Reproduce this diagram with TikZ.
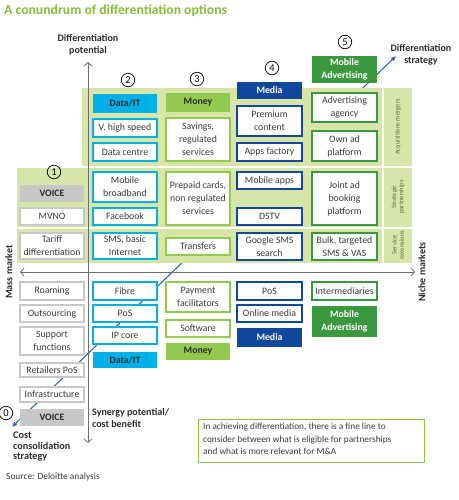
\documentclass[tikz,border=0pt]{standalone}
\usepackage{fontspec}
\setmainfont{Carlito}
\usetikzlibrary{arrows.meta}
\definecolor{titlegreen}{RGB}{134,190,60}
\definecolor{bggreen}{RGB}{216,229,168}
\definecolor{cyanc}{RGB}{0,176,230}
\definecolor{moneyc}{RGB}{146,202,80}
\definecolor{mediac}{RGB}{18,72,155}
\definecolor{mobadc}{RGB}{58,152,62}
\definecolor{grayc}{RGB}{200,200,200}
\definecolor{txt}{RGB}{60,60,60}
\definecolor{lbl}{RGB}{45,45,45}
\definecolor{axisc}{RGB}{110,110,110}
\definecolor{diagc}{RGB}{35,95,175}
\definecolor{notegreen}{RGB}{140,200,70}
\definecolor{sidec}{RGB}{95,105,70}
\tikzset{
  bx/.style={draw, fill=white, line width=1.2pt, inner sep=0pt, align=center,
    font=\fontsize{9.8}{13}\selectfont, text=txt},
  gbx/.style={bx, draw=grayc},
  dbx/.style={bx, draw=cyanc},
  mbx/.style={bx, draw=moneyc},
  mebx/.style={bx, draw=mediac},
  abx/.style={bx, draw=mobadc},
  hd/.style={inner sep=0pt, align=center, font=\bfseries\fontsize{9.8}{13}\selectfont},
  ghd/.style={hd, fill=grayc, text=lbl},
  dhd/.style={hd, fill=cyanc, text=lbl},
  mhd/.style={hd, fill=moneyc, text=lbl},
  mehd/.style={hd, fill=mediac, text=white},
  ahd/.style={hd, fill=mobadc, text=white},
  axislbl/.style={inner sep=0pt, align=center, font=\bfseries\fontsize{10}{12.5}\selectfont, text=lbl},
  sidelbl/.style={inner sep=0pt, align=center, rotate=90, font=\fontsize{6.6}{7.4}\selectfont, text=sidec},
  num/.style={circle, draw=black, line width=0.7pt, minimum size=13.5pt, inner sep=0pt,
    font=\fontsize{10.5}{10.5}\selectfont},
  axisline/.style={draw=axisc, line width=0.8pt, {Straight Barb[length=3.5pt,width=8pt]}-{Straight Barb[length=3.5pt,width=8pt]}},
  diagline/.style={draw=diagc, line width=1pt, {Latex[length=5pt,width=4.5pt]}-{Latex[length=5pt,width=4.5pt]}},
}
\newcommand\mkbox[7]{\node[#2, minimum width={#5-#3}, minimum height={#6-#4}] (#1) at ({(#3+#5)/2},{(#4+#6)/2}) {#7};}
\begin{document}
\begin{tikzpicture}[x=1pt,y=-1pt]
\fill[white] (0,0) rectangle (458,500);
\useasboundingbox (0,0) rectangle (458,500);

% diagonal strategy line (behind everything)
\coordinate (dstart) at (12,427);
\coordinate (dend) at (396,56);
\path[diagline] (dstart) -- (dend);

% green background
\fill[bggreen] (17,166) -- (82,166) -- (82,88) -- (412,88) -- (412,263) -- (17,263) -- cycle;
\draw[white, line width=1.5pt] (17,167) -- (412,167);
\draw[white, line width=1.5pt] (17,228) -- (412,228);
\draw[white, line width=1.5pt] (383,88) -- (383,263);

% axes
\coordinate (vt) at (88,62);
\coordinate (vb) at (88,443);
\coordinate (hl) at (20,272);
\coordinate (hr) at (415,272);
\path[axisline] (vb) -- (vt);
\path[axisline] (hl) -- (hr);

% title and axis labels
\node[anchor=base west, inner sep=0pt, font=\bfseries\fontsize{13.7}{15}\selectfont, text=titlegreen] (title) at (4,14.5) {A conundrum of differentiation options};
\node[axislbl] (dpot) at (88,45) {Differentiation\\potential};
\node[axislbl] (dstrat) at (421,55) {Differentiation\\strategy};
\node[axislbl, rotate=90] (mass) at (9,272) {Mass market};
\node[axislbl, rotate=90] (niche) at (422,272) {Niche markets};
\node[axislbl, anchor=north west, align=left] (syn) at (92,408) {Synergy potential/\\cost benefit};
\node[axislbl, anchor=north west, align=left, font=\bfseries\fontsize{10.2}{10.5}\selectfont] (cost) at (13,432) {Cost\\consolidation\\strategy};
\node[anchor=base west, inner sep=0pt, font=\fontsize{9.4}{10}\selectfont, text=txt] (src) at (6,479) {Source: Deloitte analysis};

% side labels
\node[sidelbl] (acq) at (398,127) {Acquisitions mergers};
\node[sidelbl] (strat) at (398,197) {Strategic\\partnerships};
\node[sidelbl] (serv) at (398,245) {Service\\extensions};

% circled numbers
\node[num] (n0) at (6,413) {0};
\node[num] (n1) at (54,172) {1};
\node[num] (n2) at (128,80) {2};
\node[num] (n3) at (197,79) {3};
\node[num] (n4) at (272,68) {4};
\node[num] (n5) at (345,42) {5};

% headers (top)
\mkbox{vh}{ghd}{20}{185}{84}{202}{VOICE}
\mkbox{dh}{dhd}{93}{94}{157}{113}{Data/IT}
\mkbox{mh}{mhd}{166}{93}{230}{112}{Money}
\mkbox{meh}{mehd}{237}{82}{302}{99}{Media}
\mkbox{ah}{ahd}{312}{56}{377}{83}{Mobile\\Advertising}

% upper boxes
\mkbox{mvno}{gbx}{20}{208}{84}{225}{MVNO}
\mkbox{tariff}{gbx}{20}{233}{84}{259}{Tariff\\differentiation}

\mkbox{vhs}{dbx}{93}{119}{157}{137}{V. high speed}
\mkbox{dc}{dbx}{93}{143}{157}{161}{Data centre}
\mkbox{mb}{dbx}{93}{172}{157}{202}{Mobile\\broadband}
\mkbox{fb}{dbx}{93}{208}{157}{225}{Facebook}
\mkbox{sms}{dbx}{93}{233}{157}{259}{SMS, basic\\Internet}

\mkbox{sav}{mbx}{166}{118}{230}{161}{Savings,\\regulated\\services}
\mkbox{pre}{mbx}{166}{172}{230}{225}{Prepaid cards,\\non regulated\\services}
\mkbox{tr}{mbx}{166}{238}{230}{255}{Transfers}

\mkbox{pc}{mebx}{237}{106}{302}{136}{Premium\\content}
\mkbox{af}{mebx}{237}{143}{302}{161}{Apps factory}
\mkbox{mapps}{mebx}{237}{172}{302}{189}{Mobile apps}
\mkbox{dstv}{mebx}{237}{208}{302}{225}{DSTV}
\mkbox{gsms}{mebx}{237}{233}{302}{260}{Google SMS\\search}

\mkbox{aa}{abx}{312}{93}{377}{122}{Advertising\\agency}
\mkbox{oap}{abx}{312}{131}{377}{161}{Own ad\\platform}
\mkbox{jab}{abx}{312}{172}{377}{225}{Joint ad\\booking\\platform}
\mkbox{bulk}{abx}{312}{233}{377}{260}{Bulk, targeted\\SMS \& VAS}

% lower boxes
\mkbox{roam}{gbx}{20}{282}{84}{300}{Roaming}
\mkbox{outs}{gbx}{20}{305}{84}{322}{Outsourcing}
\mkbox{supp}{gbx}{20}{327}{84}{355}{Support\\functions}
\mkbox{ret}{gbx}{20}{363}{84}{377}{Retailers PoS}
\mkbox{infra}{gbx}{20}{387}{84}{402}{Infrastructure}
\mkbox{vh2}{ghd}{20}{409}{84}{426}{VOICE}

\mkbox{fibre}{dbx}{93}{282}{157}{300}{Fibre}
\mkbox{pos}{dbx}{93}{305}{157}{322}{PoS}
\mkbox{ip}{dbx}{93}{327}{157}{344}{IP core}
\mkbox{dh2}{dhd}{93}{352}{157}{368}{Data/IT}

\mkbox{pay}{mbx}{166}{282}{230}{312}{Payment\\facilitators}
\mkbox{soft}{mbx}{166}{320}{230}{337}{Software}
\mkbox{mh2}{mhd}{166}{343}{230}{360}{Money}

\mkbox{pos2}{mebx}{237}{282}{302}{300}{PoS}
\mkbox{om}{mebx}{237}{305}{302}{322}{Online media}
\mkbox{meh2}{mehd}{237}{328}{302}{347}{Media}

\mkbox{inter}{abx}{312}{282}{377}{300}{Intermediaries}
\mkbox{ah2}{ahd}{312}{306}{377}{337}{Mobile\\Advertising}

% note
\node[draw=notegreen, line width=1pt, minimum width=226pt, minimum height=43pt, inner sep=0pt] (notebox) at (311,440.5) {};
\node[anchor=north west, inner sep=0pt, align=left, font=\fontsize{9.3}{12.5}\selectfont, text=txt] (note) at (203,423) {In achieving differentiation, there is a fine line to\\consider between what is eligible for partnerships\\and what is more relevant for M\&A};
\end{tikzpicture}
\end{document}
